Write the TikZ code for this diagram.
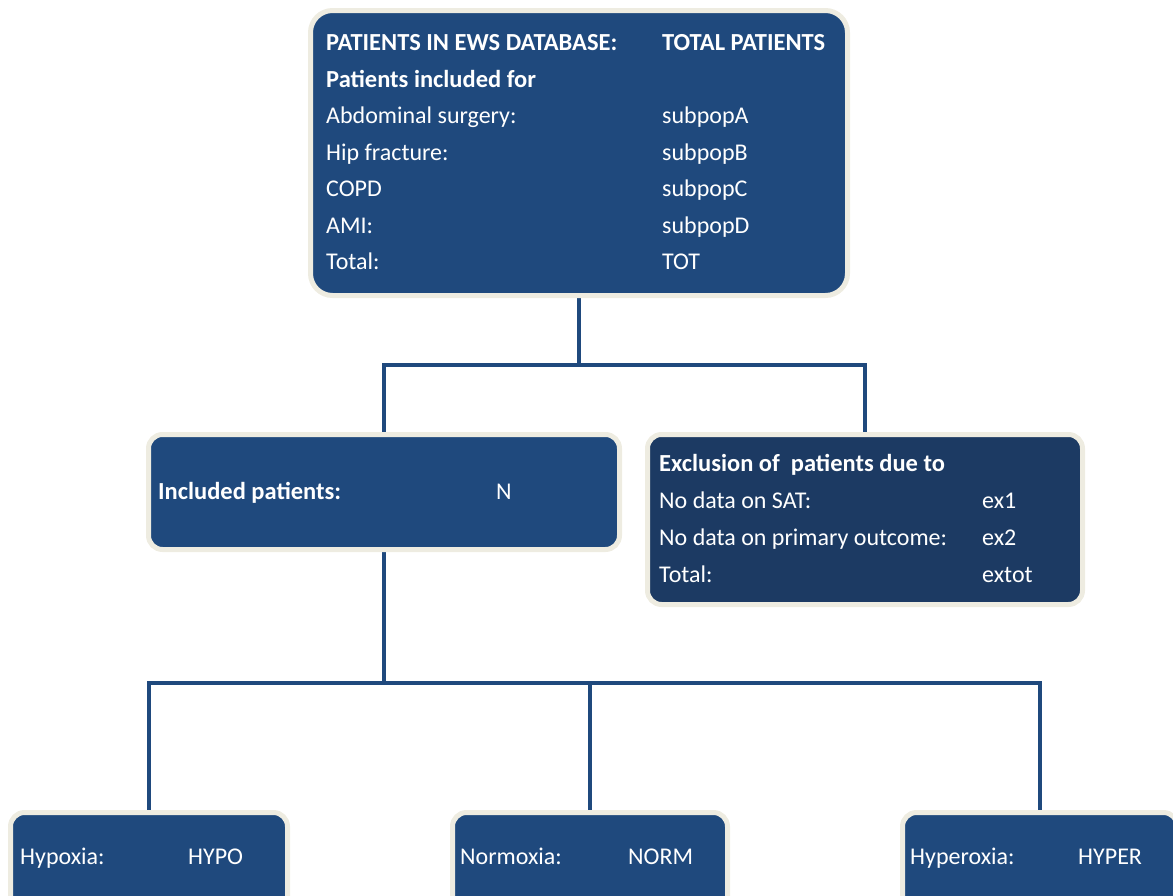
\documentclass[tikz,border=0pt]{standalone}
\usepackage{fontspec}
\setmainfont{Carlito}
\usetikzlibrary{backgrounds}
\definecolor{boxblue}{HTML}{1F497D}
\definecolor{exblue}{HTML}{1C3A63}
\definecolor{cream}{HTML}{EEECE1}
\tikzset{
  box/.style={draw=cream, line width=5pt, fill=boxblue, rounded corners=14pt, inner sep=0pt},
  bigbox/.style={box, rounded corners=22pt},
  exbox/.style={box, fill=exblue},
  txt/.style={anchor=base west, inner sep=0pt, text=white, font=\fontsize{24}{28}\selectfont},
  btxt/.style={txt, font=\fontsize{24.5}{28}\selectfont\bfseries},
  conn/.style={draw=boxblue, line width=4pt}
}
\begin{document}
\begin{tikzpicture}[x=1pt,y=-1pt]
\useasboundingbox (0,0) rectangle (1173,895);
% boxes
\node[bigbox, minimum width=537pt, minimum height=285pt] (top) at (579,153) {};
\node[box, minimum width=471pt, minimum height=115pt] (inc) at (384,492) {};
\node[exbox, minimum width=435pt, minimum height=170pt] (exc) at (865,519.5) {};
\node[box, minimum width=277pt, minimum height=120pt] (hypo) at (149,872.5) {};
\node[box, minimum width=275pt, minimum height=120pt] (norm) at (590,872.5) {};
\node[box, minimum width=275pt, minimum height=120pt] (hyper) at (1040,872.5) {};
% connectors
\coordinate (j1) at (579,365);
\coordinate (j2) at (384,683);
\begin{scope}[on background layer]
\draw[conn] (top.south) -- (j1);
\draw[conn] (inc.north) |- (j1) -| (exc.north);
\draw[conn] (inc.south) -- (j2);
\draw[conn] (hypo.north) |- (j2) -| (hyper.north);
\draw[conn] (norm.north) -- (norm.north |- j2);
\end{scope}
% top text
\node[btxt] (t1) at (326,50.5) {PATIENTS IN EWS DATABASE:};
\node[btxt] (t1r) at (662,50.5) {TOTAL PATIENTS};
\node[btxt] (t2) at (326,87) {Patients included for};
\node[txt] (t3) at (326,123.5) {Abdominal surgery:};
\node[txt] (t3r) at (662,123.5) {subpopA};
\node[txt] (t4) at (326,160) {Hip fracture:};
\node[txt] (t4r) at (662,160) {subpopB};
\node[txt] (t5) at (326,196.5) {COPD};
\node[txt] (t5r) at (662,196.5) {subpopC};
\node[txt] (t6) at (326,233) {AMI:};
\node[txt] (t6r) at (662,233) {subpopD};
\node[txt] (t7) at (326,269.5) {Total:};
\node[txt] (t7r) at (662,269.5) {TOT};
% included
\node[btxt] (i1) at (158,499) {Included patients:};
\node[txt] (i1r) at (496,499) {N};
% exclusion
\node[btxt] (e1) at (659,471) {Exclusion of\ \ patients due to};
\node[txt] (e2) at (659,508) {No data on SAT:};
\node[txt] (e2r) at (982,508) {ex1};
\node[txt] (e3) at (659,545) {No data on primary outcome:};
\node[txt] (e3r) at (982,545) {ex2};
\node[txt] (e4) at (659,582) {Total:};
\node[txt] (e4r) at (982,582) {extot};
% bottom
\node[txt] (b1) at (20,864) {Hypoxia:};
\node[txt] (b1r) at (188,864) {HYPO};
\node[txt] (b2) at (460,864) {Normoxia:};
\node[txt] (b2r) at (628,864) {NORM};
\node[txt] (b3) at (910,864) {Hyperoxia:};
\node[txt] (b3r) at (1078,864) {HYPER};
\end{tikzpicture}
\end{document}
